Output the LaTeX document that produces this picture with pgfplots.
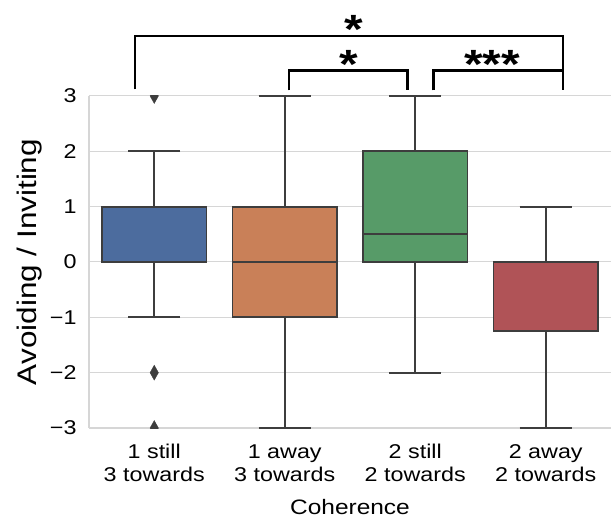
\documentclass[border=0pt]{standalone}
\usepackage{fontspec}
\setmainfont{Liberation Sans}[FakeStretch=1.17]
\usepackage{pgfplots}
\pgfplotsset{compat=1.18}
\usepgfplotslibrary{statistics}
\definecolor{cblue}{HTML}{4C6C9E}
\definecolor{corange}{HTML}{C98058}
\definecolor{cgreen}{HTML}{579B68}
\definecolor{cred}{HTML}{B05357}
\definecolor{edge}{HTML}{3D3D3D}
\definecolor{gridc}{HTML}{D6D6D6}
\begin{document}
\begin{tikzpicture}
\begin{axis}[
  name=ax,
  scale only axis,
  width=522bp, height=332bp,
  xmin=-0.5, xmax=3.5, ymin=-3, ymax=3,
  xtick={0,1,2,3},
  xticklabels={{1 still\\3 towards},{1 away\\3 towards},{2 still\\2 towards},{2 away\\2 towards}},
  ytick={-3,-2,-1,0,1,2,3},
  yticklabels={−3,−2,−1,0,1,2,3},
  major tick length=0pt,
  tick label style={font=\fontsize{20}{23}\selectfont},
  xticklabel style={align=center, text depth=0pt, anchor=north, yshift=-13bp},
  yticklabel style={xshift=-9bp},
  ymajorgrids, grid style={gridc, line width=1bp},
  axis line style={draw=gridc, line width=1.2bp},
  axis x line*=bottom, axis y line*=left,
  xlabel={Coherence}, ylabel={Avoiding / Inviting},
  xlabel style={font=\fontsize{21}{25}\selectfont, at={(axis description cs:0.5,-0.26)}, anchor=base},
  ylabel style={font=\fontsize{27}{31}\selectfont, at={(axis description cs:-0.114,0.5)}, anchor=center},
  clip marker paths=true,
  boxplot/draw direction=y,
  every boxplot/.style={},
]
\addplot[boxplot prepared={median=1, upper quartile=1, lower quartile=0, upper whisker=2, lower whisker=-1, draw position=0, box extend=0.8, whisker extend=0.4},
  fill=cblue, draw=edge, line width=1.8bp, mark=diamond*, mark size=7.5bp, mark options={fill=edge, draw=edge, line width=0.3bp, xscale=0.75}]
  table[row sep=\\, y index=0] {3\\ -2\\ -3\\};
\addplot[boxplot prepared={median=0, upper quartile=1, lower quartile=-1, upper whisker=3, lower whisker=-3, draw position=1, box extend=0.8, whisker extend=0.4},
  fill=corange, draw=edge, line width=1.8bp] coordinates {};
\addplot[boxplot prepared={median=0.5, upper quartile=2, lower quartile=0, upper whisker=3, lower whisker=-2, draw position=2, box extend=0.8, whisker extend=0.4},
  fill=cgreen, draw=edge, line width=1.8bp] coordinates {};
\addplot[boxplot prepared={median=0, upper quartile=0, lower quartile=-1.25, upper whisker=1, lower whisker=-3, draw position=3, box extend=0.8, whisker extend=0.4},
  fill=cred, draw=edge, line width=1.8bp] coordinates {};
\coordinate (a1) at (axis cs:-0.15,3.12);
\coordinate (a2) at (axis cs:-0.15,4.09);
\coordinate (a3) at (axis cs:3.135,4.09);
\coordinate (a4) at (axis cs:3.135,3.10);
\coordinate (b1) at (axis cs:1.03,3.10);
\coordinate (b2) at (axis cs:1.03,3.46);
\coordinate (b3) at (axis cs:1.94,3.46);
\coordinate (b4) at (axis cs:1.94,3.10);
\coordinate (c1) at (axis cs:2.14,3.10);
\coordinate (c2) at (axis cs:2.14,3.46);
\coordinate (c3) at (axis cs:3.135,3.46);
\coordinate (s1) at (axis cs:1.53,4.09);
\coordinate (s2) at (axis cs:1.49,3.46);
\coordinate (s3) at (axis cs:2.59,3.46);
\coordinate (bbl) at (axis cs:-0.5,-3);
\coordinate (bbr) at (axis cs:3.5,3);
\end{axis}
\draw[black, line width=2.2bp] (a1) -- (a2) -- (a3) -- (a4);
\draw[black, line width=2.2bp] (b1) -- (b2) -- (b3) -- (b4);
\draw[black, line width=2.2bp] (c1) -- (c2) -- (c3);
\tikzset{star/.style={anchor=base, inner sep=0pt, text depth=0pt, font=\bfseries\fontsize{41}{41}\selectfont}}
\node[star] at ([yshift=-7.5bp]s1) {*};
\node[star] at ([yshift=-7.5bp]s2) {*};
\node[star] at ([yshift=-7.5bp]s3) {***};
\pgfresetboundingbox
\path ([xshift=-89bp, yshift=-90bp]bbl) rectangle ([xshift=1bp, yshift=96bp]bbr);
\end{tikzpicture}
\end{document}
